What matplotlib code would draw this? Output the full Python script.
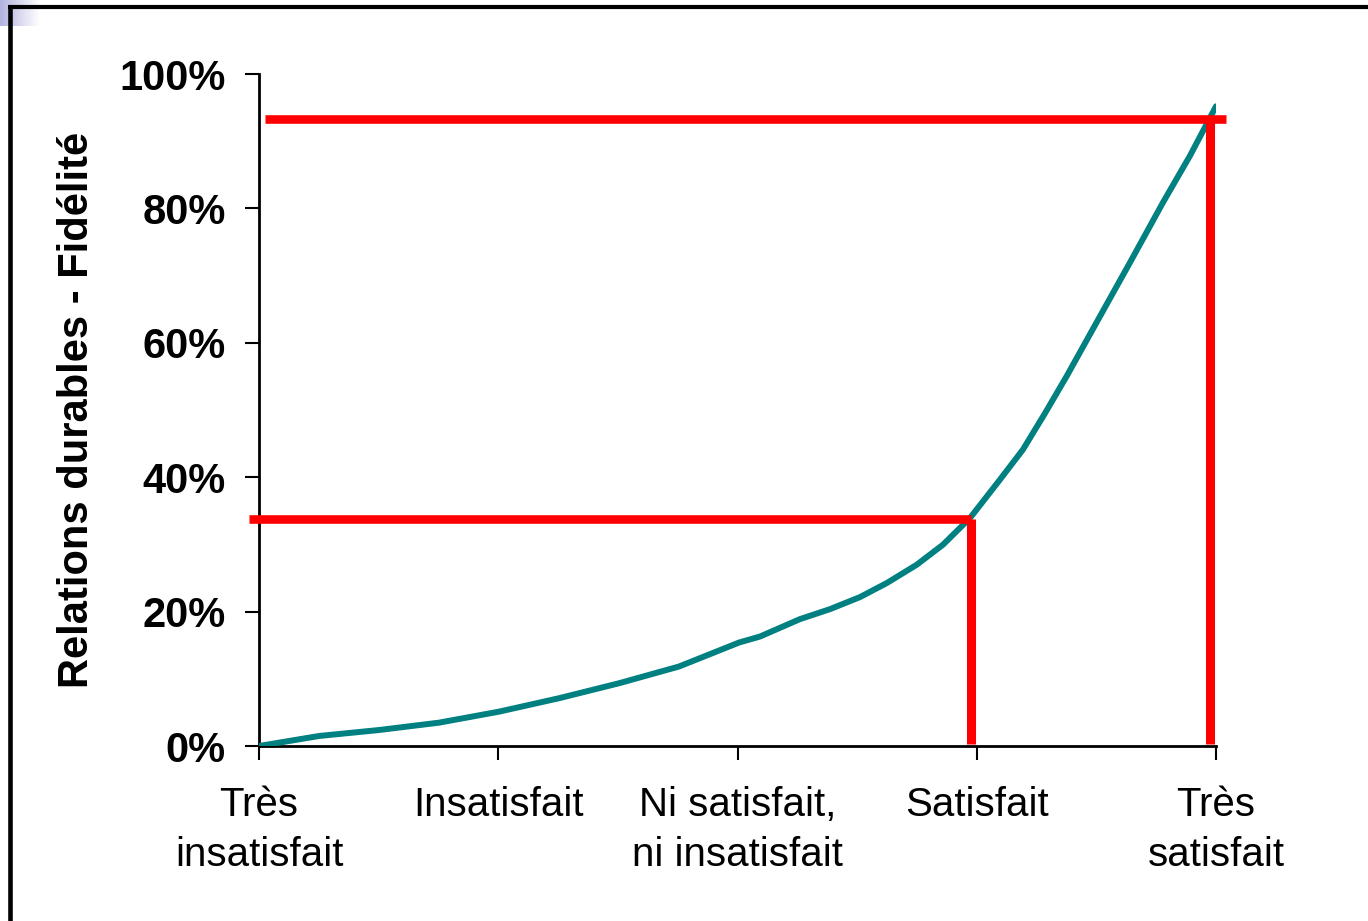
import numpy as np
import matplotlib
matplotlib.use("Agg")
import matplotlib.pyplot as plt
from matplotlib.lines import Line2D

plt.rcParams['font.family'] = ['Liberation Sans', 'DejaVu Sans']

# ---- data ----
categories = ["Très\ninsatisfait", "Insatisfait", "Ni satisfait,\nni insatisfait",
              "Satisfait", "Très\nsatisfait"]
curve_x = [0.0, 0.251, 0.502, 0.752, 1.003, 1.254, 1.505, 1.755, 2.006, 2.094,
           2.261, 2.387, 2.512, 2.624, 2.749, 2.859, 2.972, 3.097, 3.193, 3.285,
           3.376, 3.501, 3.641, 3.779, 3.891, 4.0]
curve_y = [0.0, 1.49, 2.38, 3.47, 5.11, 7.11, 9.34, 11.82, 15.39, 16.29,
           18.88, 20.37, 22.16, 24.25, 26.97, 29.96, 33.93, 39.64, 44.11, 49.5,
           55.04, 63.04, 71.98, 80.92, 87.82, 95.19]
ref_x = [2.974, 3.977]          # vertical reference lines (category position)
ref_y = [33.8, 93.3]            # horizontal reference lines (%)
ref_h_start = [-0.042, 0.025]
ref_h_end = [2.974, 4.042]
yticks = [0, 20, 40, 60, 80, 100]
ytick_labels = ["0%", "20%", "40%", "60%", "80%", "100%"]
ylabel = "Relations durables - Fidélité"

W, H = 1368, 921
fig = plt.figure(figsize=(W / 100, H / 100), dpi=100)

# gradient square top-left
gax = fig.add_axes([0, 1 - 26 / H, 40 / W, 26 / H])
grad = np.linspace(0, 1, 100)[None, :]
c0 = np.array([178, 178, 224]) / 255.0
img = c0[None, None, :] * (1 - grad[..., None]) + np.ones(3)[None, None, :] * grad[..., None]
gax.imshow(img, aspect='auto', extent=[0, 1, 0, 1])
gax.axis('off')

ax = fig.add_axes([259 / W, 1 - 746 / H, (1216 - 259) / W, (746 - 74) / H])
ax.set_xlim(0, 4)
ax.set_ylim(0, 100)

ax.plot(curve_x, curve_y, color='#008080', lw=4.3, solid_capstyle='round',
        solid_joinstyle='round', zorder=3)

for xs, xe, yv in zip(ref_h_start, ref_h_end, ref_y):
    ax.plot([xs, xe], [yv, yv], color='#ff0000', lw=6.2, solid_capstyle='butt',
            clip_on=False, zorder=4)
for xv, yv in zip(ref_x, ref_y):
    ax.plot([xv, xv], [yv, 0.3], color='#ff0000', lw=6.5, solid_capstyle='butt',
            clip_on=False, zorder=4)

for s in ['top', 'right']:
    ax.spines[s].set_visible(False)
for s in ['left', 'bottom']:
    ax.spines[s].set_linewidth(2)
    ax.spines[s].set_color('black')

ax.set_xticks(range(len(categories)))
ax.set_xticklabels(categories, fontsize=29, linespacing=1.4)
ax.set_yticks(yticks)
ax.set_yticklabels(ytick_labels, fontsize=30, fontweight='bold')
ax.tick_params(axis='both', direction='out', length=10, width=1.5, color='black')
ax.tick_params(axis='y', pad=14)
ax.tick_params(axis='x', pad=19)

ax.set_ylabel(ylabel, fontsize=30, fontweight='bold')
ax.yaxis.set_label_coords((97 - 259) / (1216 - 259), 0.5)

# frame lines (figure pixel coords)
fig.add_artist(Line2D([9.5 / W, 9.5 / W], [0, 1 - 5 / H], color='black', lw=3.3,
                      transform=fig.transFigure, solid_capstyle='butt'))
fig.add_artist(Line2D([8 / W, 1], [1 - 7.2 / H, 1 - 7.2 / H], color='black', lw=3.0,
                      transform=fig.transFigure, solid_capstyle='butt'))

fig.savefig("out.png", dpi=100)
